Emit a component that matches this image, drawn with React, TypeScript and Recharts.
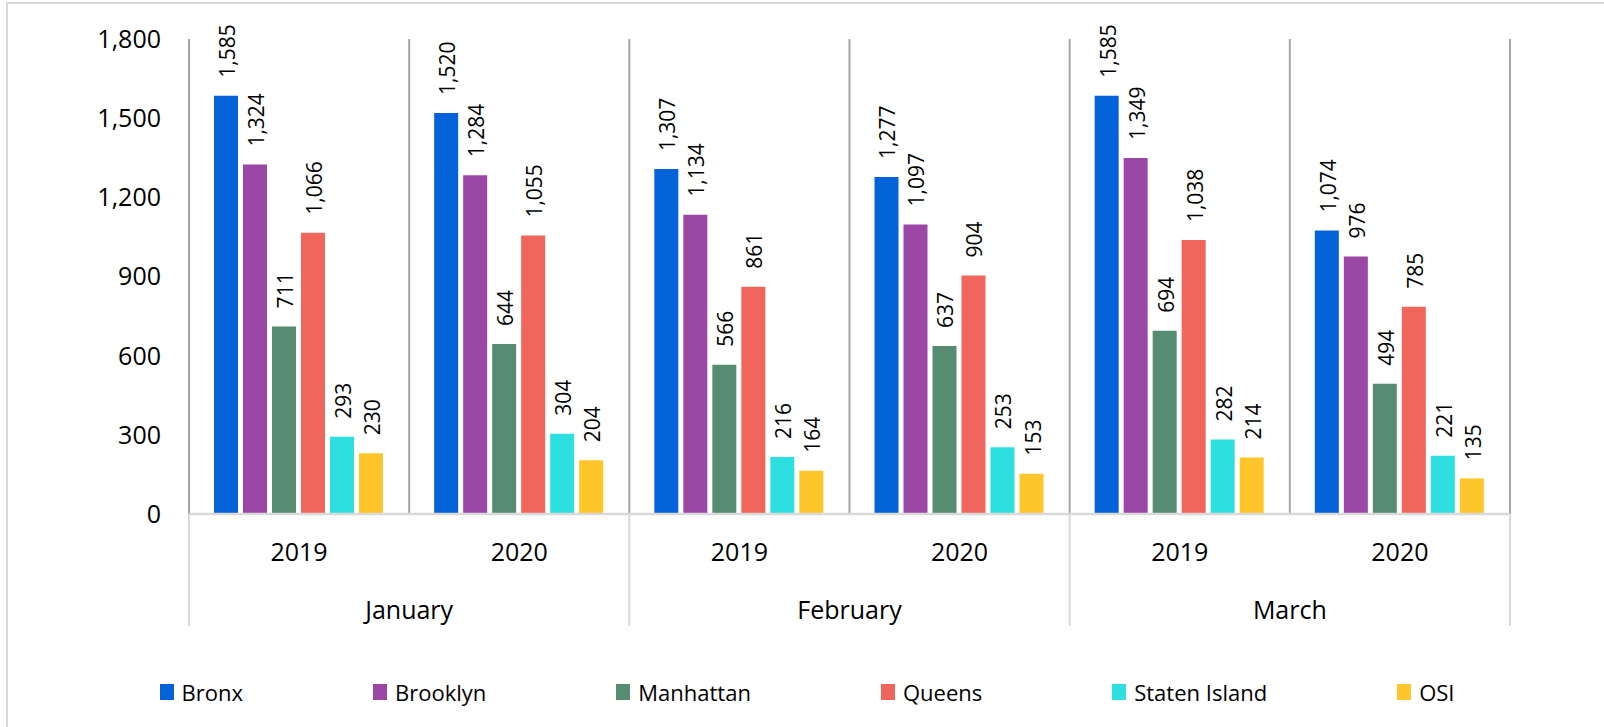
import React from 'react';
import { BarChart, Bar, XAxis, YAxis, CartesianGrid, LabelList } from 'recharts';

// categories
const months = ['January', 'January', 'February', 'February', 'March', 'March'];
const years = ['2019', '2020', '2019', '2020', '2019', '2020'];

// series values
const bronx = [1585, 1520, 1307, 1277, 1585, 1074];
const brooklyn = [1324, 1284, 1134, 1097, 1349, 976];
const manhattan = [711, 644, 566, 637, 694, 494];
const queens = [1066, 1055, 861, 904, 1038, 785];
const statenIsland = [293, 304, 216, 253, 282, 221];
const osi = [230, 204, 164, 153, 214, 135];

// ticks
const yTicks = [0, 300, 600, 900, 1200, 1500, 1800];

const series = [
    { key: 'Bronx', values: bronx, color: '#0563DA' },
    { key: 'Brooklyn', values: brooklyn, color: '#9B47A5' },
    { key: 'Manhattan', values: manhattan, color: '#578C73' },
    { key: 'Queens', values: queens, color: '#F1665C' },
    { key: 'Staten Island', values: statenIsland, color: '#2DE0DF' },
    { key: 'OSI', values: osi, color: '#FEC62A' },
];

const data = years.map((year, i) => {
    const row: Record<string, string | number> = { year, month: months[i] };
    series.forEach((s) => {
        row[s.key] = s.values[i];
    });
    return row;
});

const FONT = '"Open Sans", sans-serif';
const fmt = (v: number) => Number(v).toLocaleString('en-US');

const ValueLabel = (props: any) => {
    const { x, y, width, value } = props;
    const cx = Number(x) + Number(width) / 2 + 1;
    const ty = Number(y) - 18;
    return (
        <text
            x={cx}
            y={ty}
            transform={`rotate(-90 ${cx} ${ty})`}
            textAnchor="start"
            dominantBaseline="central"
            fontSize={21}
            fill="#000"
        >
            {fmt(value)}
        </text>
    );
};

// year label + separators that run down through the month row
const YearTick = (props: any) => {
    const { x, y, payload, index } = props;
    const half = payload.offset || 110;
    const last = index === data.length - 1;
    return (
        <g>
            {index % 2 === 0 && (
                <line x1={x - half} x2={x - half} y1={y} y2={y + 112} stroke="#d9d9d9" strokeWidth={2} />
            )}
            {last && <line x1={x + half} x2={x + half} y1={y} y2={y + 112} stroke="#d9d9d9" strokeWidth={2} />}
            <text x={x} y={y + 47} textAnchor="middle" fontSize={25} fill="#000">
                {payload.value}
            </text>
        </g>
    );
};

const MonthTick = (props: any) => {
    const { x, y, payload, index } = props;
    if (index % 2 !== 0) return <g />;
    const half = payload.offset || 110;
    return (
        <text x={x + half} y={y + 29} textAnchor="middle" fontSize={25} fill="#000">
            {payload.value}
        </text>
    );
};

// vertical lines at every category edge, from the plot offset
const edgeLines = ({ offset }: any) =>
    Array.from({ length: data.length + 1 }, (_, i) => offset.left + (i * offset.width) / data.length);

const App: React.FC = () => {
    return (
        <div
            style={{
                position: 'absolute',
                left: 0,
                top: 0,
                width: 1604,
                height: 727,
                overflow: 'hidden',
                background: '#fff',
                fontFamily: FONT,
            }}
        >
            <div
                style={{
                    position: 'absolute',
                    left: 6,
                    top: 2,
                    width: 1700,
                    height: 800,
                    borderLeft: '2px solid #d9d9d9',
                    borderTop: '2px solid #d9d9d9',
                }}
            />
            <div style={{ position: 'absolute', left: 0, top: 0 }}>
                <BarChart
                    width={1604}
                    height={727}
                    data={data}
                    margin={{ top: 39, right: 94, bottom: 101, left: 0 }}
                    barCategoryGap={25}
                    barGap={5}
                >
                    <CartesianGrid
                        horizontal={false}
                        stroke="#a6a6a6"
                        strokeWidth={2}
                        verticalCoordinatesGenerator={edgeLines}
                    />
                    <XAxis
                        dataKey="year"
                        height={76}
                        axisLine={{ stroke: '#d9d9d9', strokeWidth: 2.5 }}
                        tickLine={false}
                        tickSize={0}
                        tickMargin={0}
                        interval={0}
                        tick={<YearTick />}
                    />
                    <XAxis
                        xAxisId="month"
                        dataKey="month"
                        height={36}
                        axisLine={false}
                        tickLine={false}
                        tickSize={0}
                        tickMargin={0}
                        interval={0}
                        tick={<MonthTick />}
                    />
                    <YAxis
                        width={189}
                        domain={[0, 1800]}
                        ticks={yTicks}
                        tickFormatter={fmt}
                        axisLine={false}
                        tickLine={false}
                        tickSize={0}
                        tickMargin={28}
                        tick={{ fontSize: 25, fill: '#000' }}
                    />
                    {series.map((s) => (
                        <Bar key={s.key} dataKey={s.key} fill={s.color} isAnimationActive={false}>
                            <LabelList dataKey={s.key} content={<ValueLabel />} />
                        </Bar>
                    ))}
                </BarChart>
            </div>
            <div
                style={{
                    position: 'absolute',
                    left: 5,
                    top: 677,
                    width: 1604,
                    display: 'flex',
                    justifyContent: 'center',
                    gap: 130,
                    fontSize: 22,
                    lineHeight: '30px',
                    color: '#000',
                }}
            >
                {series.map((s) => (
                    <div key={s.key} style={{ display: 'flex', alignItems: 'center' }}>
                        <span style={{ width: 14, height: 16, background: s.color, marginRight: 8 }} />
                        <span>{s.key}</span>
                    </div>
                ))}
            </div>
        </div>
    );
};

export default App;
